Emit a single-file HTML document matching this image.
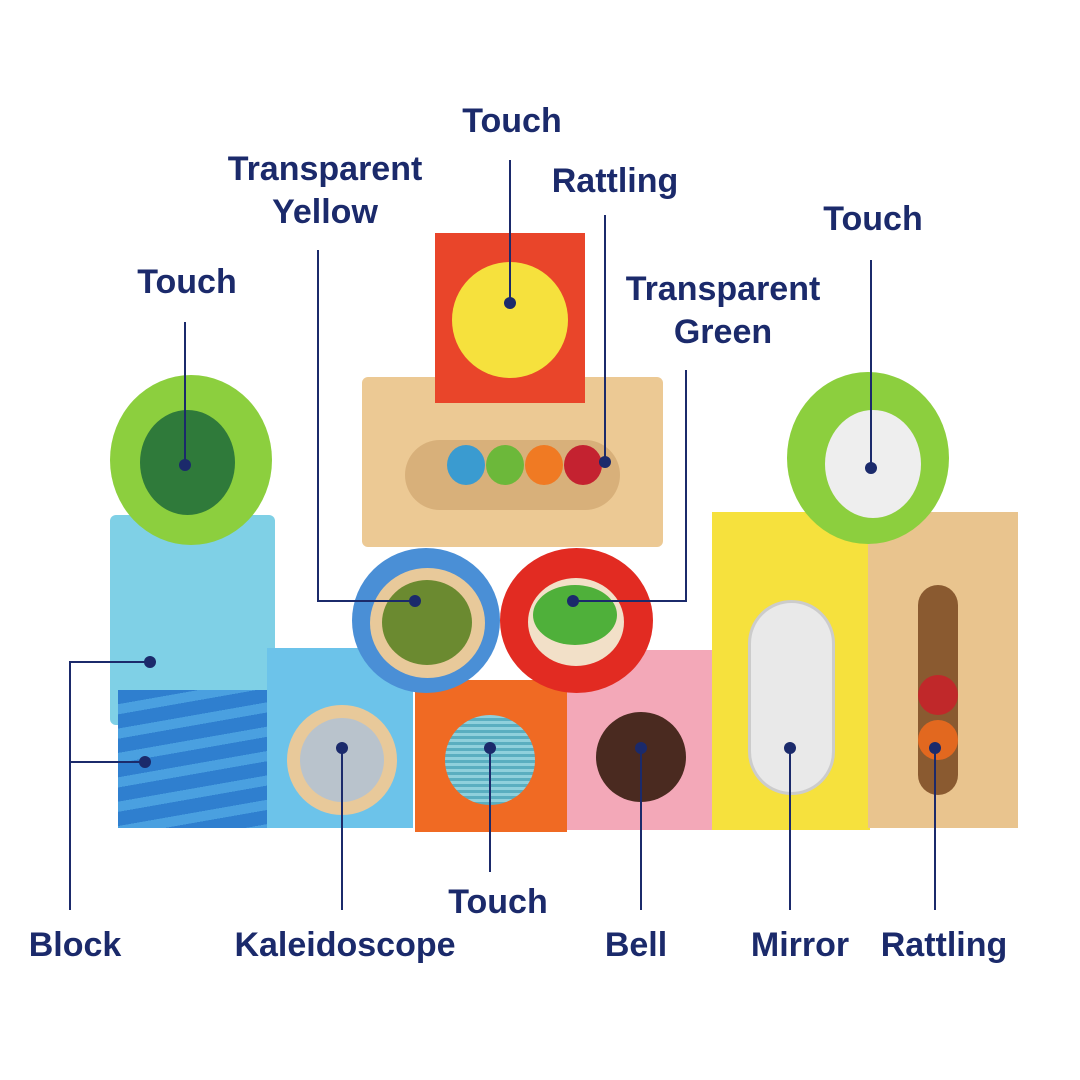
<!DOCTYPE html>
<html><head><meta charset="utf-8"><style>
body{margin:0;width:1080px;height:1080px;background:#fff;position:relative;overflow:hidden;font-family:"Liberation Sans",sans-serif}
.a{position:absolute}
.t{position:absolute;color:#1b2a6b;font-weight:bold;font-size:34px;text-align:center;line-height:43px;white-space:nowrap;transform:translateX(-50%)}
.v{position:absolute;width:2px;background:#1b2a6b}
.h{position:absolute;height:2px;background:#1b2a6b}
.d{position:absolute;width:12px;height:12px;border-radius:50%;background:#1b2a6b;margin:-6px 0 0 -6px}
</style></head><body>
<!-- blocks -->
<div class="a" style="left:110px;top:515px;width:165px;height:210px;background:#7fd0e6;border-radius:6px"></div>
<div class="a" style="left:118px;top:690px;width:150px;height:138px;background:repeating-linear-gradient(170deg,#2f7fcf 0 14px,#4aa0e0 14px 24px)"></div>
<div class="a" style="left:267px;top:648px;width:146px;height:180px;background:#6cc3ea"></div>
<div class="a" style="left:287px;top:705px;width:110px;height:110px;border-radius:50%;background:#e8c99a"></div>
<div class="a" style="left:300px;top:718px;width:84px;height:84px;border-radius:50%;background:#b9c3cc"></div>
<div class="a" style="left:415px;top:680px;width:152px;height:152px;background:#f06a23"></div>
<div class="a" style="left:445px;top:715px;width:90px;height:90px;border-radius:50%;background:repeating-linear-gradient(0deg,#5aaec0 0 3px,#8fd0dc 3px 6px)"></div>
<div class="a" style="left:567px;top:650px;width:151px;height:180px;background:#f3a8b8"></div>
<div class="a" style="left:596px;top:712px;width:90px;height:90px;border-radius:50%;background:#4a2a20"></div>
<div class="a" style="left:712px;top:512px;width:158px;height:318px;background:#f6e13d"></div>
<div class="a" style="left:748px;top:600px;width:87px;height:195px;border-radius:44px;background:#e9e9e9;border:3px solid #ccc;box-sizing:border-box"></div>
<div class="a" style="left:868px;top:512px;width:150px;height:316px;background:#e9c48e"></div>
<div class="a" style="left:918px;top:585px;width:40px;height:210px;border-radius:20px;background:#8a5a30"></div>
<div class="a" style="left:918px;top:675px;width:40px;height:40px;border-radius:50%;background:#c0282a"></div>
<div class="a" style="left:918px;top:720px;width:40px;height:40px;border-radius:50%;background:#e2681f"></div>
<!-- top stack -->
<div class="a" style="left:362px;top:377px;width:301px;height:170px;background:#ecc994;border-radius:6px"></div>
<div class="a" style="left:405px;top:440px;width:215px;height:70px;border-radius:35px;background:#d8b07a"></div>
<div class="a" style="left:447px;top:445px;width:38px;height:40px;border-radius:50%;background:#3a9bd0"></div>
<div class="a" style="left:486px;top:445px;width:38px;height:40px;border-radius:50%;background:#6cb83a"></div>
<div class="a" style="left:525px;top:445px;width:38px;height:40px;border-radius:50%;background:#f07a23"></div>
<div class="a" style="left:564px;top:445px;width:38px;height:40px;border-radius:50%;background:#c42230"></div>
<div class="a" style="left:435px;top:233px;width:150px;height:170px;background:#e9452a"></div>
<div class="a" style="left:452px;top:262px;width:116px;height:116px;border-radius:50%;background:#f6e13d"></div>
<div class="a" style="left:110px;top:375px;width:162px;height:170px;border-radius:50%;background:#8ccf3e"></div>
<div class="a" style="left:140px;top:410px;width:95px;height:105px;border-radius:50%;background:#2f7a3a"></div>
<div class="a" style="left:787px;top:372px;width:162px;height:172px;border-radius:50%;background:#8ccf3e"></div>
<div class="a" style="left:825px;top:410px;width:96px;height:108px;border-radius:50%;background:#eee"></div>
<div class="a" style="left:352px;top:548px;width:148px;height:145px;border-radius:50%;background:#4a8fd6"></div>
<div class="a" style="left:370px;top:568px;width:115px;height:110px;border-radius:50%;background:#e8c99a"></div>
<div class="a" style="left:382px;top:580px;width:90px;height:85px;border-radius:50%;background:#6b8a30"></div>
<div class="a" style="left:500px;top:548px;width:153px;height:145px;border-radius:50%;background:#e22b22"></div>
<div class="a" style="left:528px;top:578px;width:96px;height:88px;border-radius:50%;background:#f2e0c8"></div>
<div class="a" style="left:533px;top:585px;width:84px;height:60px;border-radius:50%;background:#4fb03a"></div>
<!-- labels -->
<div class="t" style="left:512px;top:100px">Touch</div>
<div class="t" style="left:325px;top:148px">Transparent<br>Yellow</div>
<div class="t" style="left:615px;top:160px">Rattling</div>
<div class="t" style="left:873px;top:198px">Touch</div>
<div class="t" style="left:187px;top:261px">Touch</div>
<div class="t" style="left:723px;top:268px">Transparent<br>Green</div>
<div class="t" style="left:498px;top:881px">Touch</div>
<div class="t" style="left:75px;top:924px">Block</div>
<div class="t" style="left:345px;top:924px">Kaleidoscope</div>
<div class="t" style="left:636px;top:924px">Bell</div>
<div class="t" style="left:800px;top:924px">Mirror</div>
<div class="t" style="left:944px;top:924px">Rattling</div>
<!-- lines -->
<div class="v" style="left:509px;top:160px;height:143px"></div><div class="d" style="left:510px;top:303px"></div>
<div class="v" style="left:604px;top:215px;height:247px"></div><div class="d" style="left:605px;top:462px"></div>
<div class="v" style="left:317px;top:250px;height:351px"></div><div class="h" style="left:317px;top:600px;width:98px"></div><div class="d" style="left:415px;top:601px"></div>
<div class="v" style="left:685px;top:370px;height:231px"></div><div class="h" style="left:573px;top:600px;width:114px"></div><div class="d" style="left:573px;top:601px"></div>
<div class="v" style="left:870px;top:260px;height:208px"></div><div class="d" style="left:871px;top:468px"></div>
<div class="v" style="left:184px;top:322px;height:143px"></div><div class="d" style="left:185px;top:465px"></div>
<div class="v" style="left:69px;top:662px;height:248px"></div>
<div class="h" style="left:69px;top:661px;width:81px"></div><div class="d" style="left:150px;top:662px"></div>
<div class="h" style="left:69px;top:761px;width:76px"></div><div class="d" style="left:145px;top:762px"></div>
<div class="v" style="left:341px;top:748px;height:162px"></div><div class="d" style="left:342px;top:748px"></div>
<div class="v" style="left:489px;top:748px;height:124px"></div><div class="d" style="left:490px;top:748px"></div>
<div class="v" style="left:640px;top:748px;height:162px"></div><div class="d" style="left:641px;top:748px"></div>
<div class="v" style="left:789px;top:748px;height:162px"></div><div class="d" style="left:790px;top:748px"></div>
<div class="v" style="left:934px;top:748px;height:162px"></div><div class="d" style="left:935px;top:748px"></div>
</body></html>
